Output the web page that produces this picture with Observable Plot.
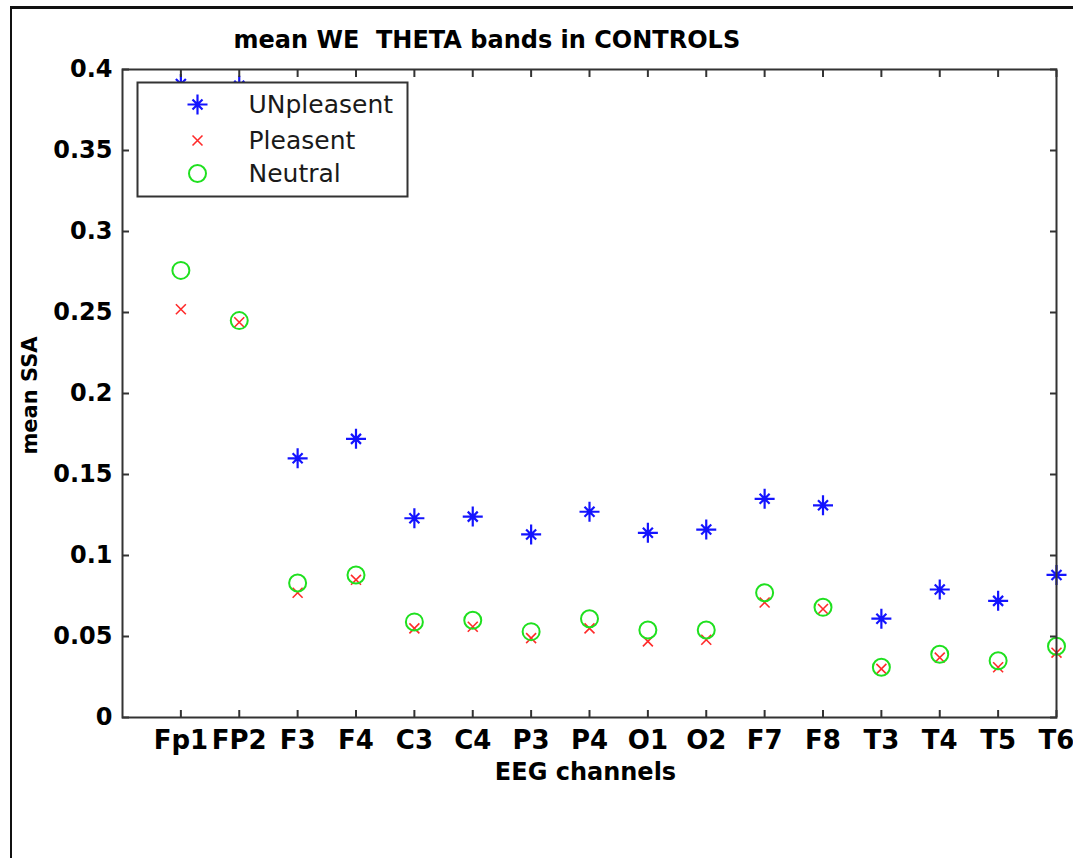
<!DOCTYPE html>
<html><head><meta charset="utf-8">
<script src="https://cdn.jsdelivr.net/npm/d3@7"></script>
<script src="https://cdn.jsdelivr.net/npm/@observablehq/plot@0.6"></script>
<style>
html,body{margin:0;padding:0;background:#fff;}
#wrap{position:relative;width:1073px;height:858px;overflow:hidden;background:#fff;}
#border{position:absolute;left:10px;top:6px;width:1200px;height:1000px;border-top:3px solid #111;border-left:2px solid #111;pointer-events:none;}
</style></head><body>
<div id="wrap"><div id="chart"></div><div id="border"></div></div>
<script>
// ---- data ----
const channels = ["Fp1","FP2","F3","F4","C3","C4","P3","P4","O1","O2","F7","F8","T3","T4","T5","T6"];
const unpleasant = [0.391, 0.390, 0.160, 0.172, 0.123, 0.124, 0.113, 0.127, 0.114, 0.116, 0.135, 0.131, 0.061, 0.079, 0.072, 0.088];
const pleasant   = [0.252, 0.244, 0.077, 0.085, 0.055, 0.056, 0.049, 0.055, 0.047, 0.048, 0.071, 0.067, 0.030, 0.037, 0.031, 0.040];
const neutral    = [0.276, 0.245, 0.083, 0.088, 0.059, 0.060, 0.053, 0.061, 0.054, 0.054, 0.077, 0.068, 0.031, 0.039, 0.035, 0.044];
const seriesNames = ["UNpleasent", "Pleasent", "Neutral"];
const yTicks = [0, 0.05, 0.1, 0.15, 0.2, 0.25, 0.3, 0.35, 0.4];
const titleText = "mean WE  THETA bands in CONTROLS";
const xLabel = "EEG channels";
const yLabel = "mean SSA";

// ---- styling ----
const star = {
  draw(ctx, size) {
    const r = Math.sqrt(size / Math.PI), d = r * 0.5;
    ctx.moveTo(0, -r); ctx.lineTo(0, r);
    ctx.moveTo(-r, 0); ctx.lineTo(r, 0);
    ctx.moveTo(-d, -d); ctx.lineTo(d, d);
    ctx.moveTo(-d, d); ctx.lineTo(d, -d);
  }
};
const styles = [
  {symbol: star, r: 10, stroke: "#1414ff", strokeWidth: 2.2},
  {symbol: "times", r: 4.6, stroke: "#ff2a2a", strokeWidth: 1.6},
  {symbol: "circle", r: 8.5, stroke: "#1fe01f", strokeWidth: 2}
];
const values = [unpleasant, pleasant, neutral];
const rows = values.map(arr => channels.map((c, i) => ({channel: c, value: arr[i]})));

const M = {left: 122, right: 17, top: 69, bottom: 141};
const W = 1073, H = 858;
const legendRows = [104, 140, 173];
const axisColor = "#333";

const marks = [];
// data series
rows.forEach((data, k) => {
  marks.push(Plot.dot(data, {x: "channel", y: "value", fill: "none", ...styles[k]}));
});
// frame + box ticks
marks.push(Plot.frame({stroke: axisColor, strokeWidth: 2}));
marks.push(Plot.axisY(yTicks, {anchor: "left", tickSize: -7, tickPadding: 17, stroke: axisColor, strokeWidth: 2,
  tickFormat: d => String(+d.toFixed(2)), fontSize: 24, fontWeight: "bold", fill: "#000", label: null}));
marks.push(Plot.axisY(yTicks, {anchor: "right", tickSize: -7, stroke: axisColor, strokeWidth: 2, fill: "none", label: null}));
marks.push(Plot.axisX({anchor: "bottom", tickSize: -7, tickPadding: 20, stroke: axisColor, strokeWidth: 2,
  fontSize: 26, fontWeight: "bold", fill: "#000", label: null}));
marks.push(Plot.axisX({anchor: "top", tickSize: -7, stroke: axisColor, strokeWidth: 2, fill: "none", label: null}));
// legend
marks.push(Plot.frame({insetLeft: 137 - M.left, insetTop: 82 - M.top, insetRight: (W - M.right) - 407, insetBottom: (H - M.bottom) - 196,
  fill: "white", stroke: axisColor, strokeWidth: 2}));
seriesNames.forEach((name, k) => {
  marks.push(Plot.dot([name], {frameAnchor: "top-left", dx: 197 - M.left, dy: legendRows[k] - M.top, fill: "none", ...styles[k]}));
  marks.push(Plot.text([name], {frameAnchor: "top-left", dx: 248 - M.left, dy: legendRows[k] - M.top, textAnchor: "start",
    lineAnchor: "middle", fontSize: 25, fill: "#1a1a1a"}));
});
// titles
marks.push(Plot.text([titleText], {frameAnchor: "top-left", dx: 233 - M.left, dy: 40 - M.top, textAnchor: "start",
  lineAnchor: "middle", fontSize: 24, fontWeight: "bold", fill: "#000"}));
marks.push(Plot.text([xLabel], {frameAnchor: "bottom", dx: -4, dy: 772 - (H - M.bottom), lineAnchor: "middle",
  fontSize: 24, fontWeight: "bold", fill: "#000"}));
marks.push(Plot.text([yLabel], {frameAnchor: "left", dx: 30 - M.left, dy: 2, rotate: -90, textAnchor: "middle", lineAnchor: "middle",
  fontSize: 21, fontWeight: "bold", fill: "#000"}));

const chart = Plot.plot({
  width: W, height: H,
  marginLeft: M.left, marginRight: M.right, marginTop: M.top, marginBottom: M.bottom,
  style: {fontFamily: "'DejaVu Sans', sans-serif", background: "white", color: "#000"},
  x: {type: "point", domain: channels, padding: 0.5, align: 1, round: false},
  y: {domain: [0, 0.4]},
  marks
});
document.getElementById("chart").appendChild(chart);
</script>
</body></html>
